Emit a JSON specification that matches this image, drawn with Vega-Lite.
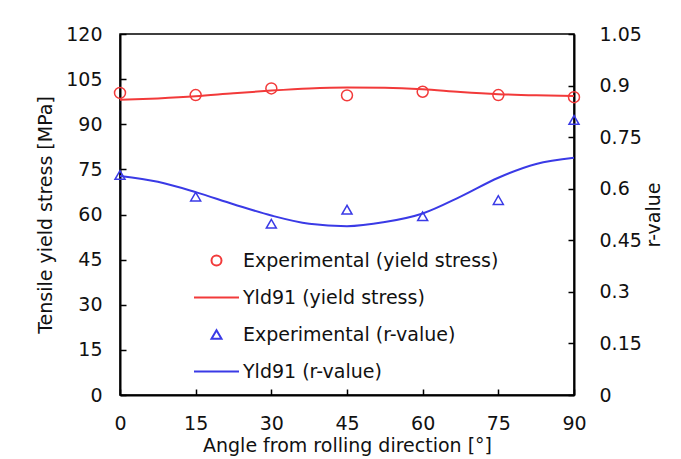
{
  "$schema": "https://vega.github.io/schema/vega-lite/v6.json",
  "width": 454,
  "height": 361,
  "autosize": {"type": "none"},
  "padding": {"left": 120, "top": 34, "right": 107, "bottom": 64},
  "background": "white",
  "config": {
    "font": "DejaVu Sans",
    "view": {"stroke": "black", "strokeWidth": 1.5},
    "axis": {
      "grid": false,
      "domainColor": "black",
      "domainWidth": 2,
      "tickColor": "black",
      "tickWidth": 1.5,
      "tickSize": -6,
      "labelFlush": false,
      "labelFont": "DejaVu Sans",
      "labelFontSize": 19,
      "labelColor": "#111111",
      "titleFont": "DejaVu Sans",
      "titleFontSize": 19,
      "titleFontWeight": "normal",
      "titleColor": "#111111"
    },
    "legend": {
      "labelFont": "DejaVu Sans",
      "labelFontSize": 19,
      "labelColor": "#111111",
      "labelLimit": 400
    }
  },
  "datasets": {
    "ys_exp": [
      {"angle": 0, "value": 100.4, "series": "Experimental (yield stress)"},
      {"angle": 15, "value": 99.7, "series": "Experimental (yield stress)"},
      {"angle": 30, "value": 101.9, "series": "Experimental (yield stress)"},
      {"angle": 45, "value": 99.6, "series": "Experimental (yield stress)"},
      {"angle": 60, "value": 100.8, "series": "Experimental (yield stress)"},
      {"angle": 75, "value": 99.7, "series": "Experimental (yield stress)"},
      {"angle": 90, "value": 99.0, "series": "Experimental (yield stress)"}
    ],
    "ys_fit": [
      {"angle": 0, "value": 98.1, "series": "Yld91 (yield stress)"},
      {"angle": 7.5, "value": 98.6, "series": "Yld91 (yield stress)"},
      {"angle": 15, "value": 99.3, "series": "Yld91 (yield stress)"},
      {"angle": 22.5, "value": 100.3, "series": "Yld91 (yield stress)"},
      {"angle": 30, "value": 101.2, "series": "Yld91 (yield stress)"},
      {"angle": 37.5, "value": 101.9, "series": "Yld91 (yield stress)"},
      {"angle": 45, "value": 102.2, "series": "Yld91 (yield stress)"},
      {"angle": 52.5, "value": 102.1, "series": "Yld91 (yield stress)"},
      {"angle": 60, "value": 101.6, "series": "Yld91 (yield stress)"},
      {"angle": 67.5, "value": 100.7, "series": "Yld91 (yield stress)"},
      {"angle": 75, "value": 100.0, "series": "Yld91 (yield stress)"},
      {"angle": 82.5, "value": 99.6, "series": "Yld91 (yield stress)"},
      {"angle": 90, "value": 99.4, "series": "Yld91 (yield stress)"}
    ],
    "r_exp": [
      {"angle": 0, "value": 0.64, "series": "Experimental (r-value)"},
      {"angle": 15, "value": 0.577, "series": "Experimental (r-value)"},
      {"angle": 30, "value": 0.498, "series": "Experimental (r-value)"},
      {"angle": 45, "value": 0.539, "series": "Experimental (r-value)"},
      {"angle": 60, "value": 0.52, "series": "Experimental (r-value)"},
      {"angle": 75, "value": 0.567, "series": "Experimental (r-value)"},
      {"angle": 90, "value": 0.80, "series": "Experimental (r-value)"}
    ],
    "r_fit": [
      {"angle": 0, "value": 0.637, "series": "Yld91 (r-value)"},
      {"angle": 7.5, "value": 0.62, "series": "Yld91 (r-value)"},
      {"angle": 15, "value": 0.59, "series": "Yld91 (r-value)"},
      {"angle": 22.5, "value": 0.555, "series": "Yld91 (r-value)"},
      {"angle": 30, "value": 0.522, "series": "Yld91 (r-value)"},
      {"angle": 37.5, "value": 0.498, "series": "Yld91 (r-value)"},
      {"angle": 45, "value": 0.491, "series": "Yld91 (r-value)"},
      {"angle": 52.5, "value": 0.503, "series": "Yld91 (r-value)"},
      {"angle": 60, "value": 0.528, "series": "Yld91 (r-value)"},
      {"angle": 67.5, "value": 0.577, "series": "Yld91 (r-value)"},
      {"angle": 75, "value": 0.632, "series": "Yld91 (r-value)"},
      {"angle": 82.5, "value": 0.672, "series": "Yld91 (r-value)"},
      {"angle": 90, "value": 0.69, "series": "Yld91 (r-value)"}
    ]
  },
  "encoding": {
    "x": {
      "field": "angle",
      "type": "quantitative",
      "scale": {"domain": [0, 90], "nice": false},
      "axis": {
        "values": [0, 15, 30, 45, 60, 75, 90],
        "title": "Angle from rolling direction [°]",
        "labelPadding": 25,
        "titlePadding": 3
      }
    },
    "color": {
      "field": "series",
      "type": "nominal",
      "scale": {
        "domain": ["Experimental (yield stress)", "Yld91 (yield stress)", "Experimental (r-value)", "Yld91 (r-value)"],
        "range": ["#f23a3a", "#f23a3a", "#3a3ae6", "#3a3ae6"]
      },
      "legend": {
        "title": null,
        "orient": "none",
        "legendX": 87,
        "legendY": 217,
        "symbolStrokeWidth": 2,
        "labelOffset": 17,
        "rowPadding": 17,
        "padding": 0,
        "encode": {
          "symbols": {
            "update": {
              "size": {"signal": "test(/Yld91/, '' + datum.value) ? 2025 : 100"}
            }
          }
        }
      }
    }
  },
  "layer": [
    {
      "encoding": {
        "y": {
          "field": "value",
          "type": "quantitative",
          "scale": {"domain": [0, 120], "nice": false},
          "axis": {
            "orient": "left",
            "values": [0, 15, 30, 45, 60, 75, 90, 105, 120],
            "title": "Tensile yield stress [MPa]",
            "labelPadding": 24,
            "titlePadding": 10
          }
        }
      },
      "layer": [
        {
          "data": {"name": "ys_fit"},
          "mark": {"type": "line", "strokeWidth": 2, "interpolate": "monotone"}
        },
        {
          "data": {"name": "ys_exp"},
          "mark": {"type": "point", "filled": false, "strokeWidth": 1.5, "opacity": 1, "size": 120},
          "encoding": {
            "shape": {
              "field": "series",
              "type": "nominal",
              "scale": {
                "domain": ["Experimental (yield stress)", "Yld91 (yield stress)", "Experimental (r-value)", "Yld91 (r-value)"],
                "range": ["circle", "stroke", "triangle-up", "stroke"]
              }
            }
          }
        }
      ]
    },
    {
      "encoding": {
        "y": {
          "field": "value",
          "type": "quantitative",
          "scale": {"domain": [0, 1.05], "nice": false},
          "axis": {
            "orient": "right",
            "values": [0, 0.15, 0.3, 0.45, 0.6, 0.75, 0.9, 1.05],
            "format": ".2~f",
            "title": "r-value",
            "titleAngle": 270,
            "labelPadding": 31,
            "titlePadding": 22
          }
        }
      },
      "layer": [
        {
          "data": {"name": "r_fit"},
          "mark": {"type": "line", "strokeWidth": 2, "interpolate": "monotone"}
        },
        {
          "data": {"name": "r_exp"},
          "mark": {"type": "point", "filled": false, "strokeWidth": 1.5, "opacity": 1, "size": 100},
          "encoding": {
            "shape": {
              "field": "series",
              "type": "nominal",
              "scale": {
                "domain": ["Experimental (yield stress)", "Yld91 (yield stress)", "Experimental (r-value)", "Yld91 (r-value)"],
                "range": ["circle", "stroke", "triangle-up", "stroke"]
              }
            }
          }
        }
      ]
    }
  ],
  "resolve": {"scale": {"y": "independent"}}
}
